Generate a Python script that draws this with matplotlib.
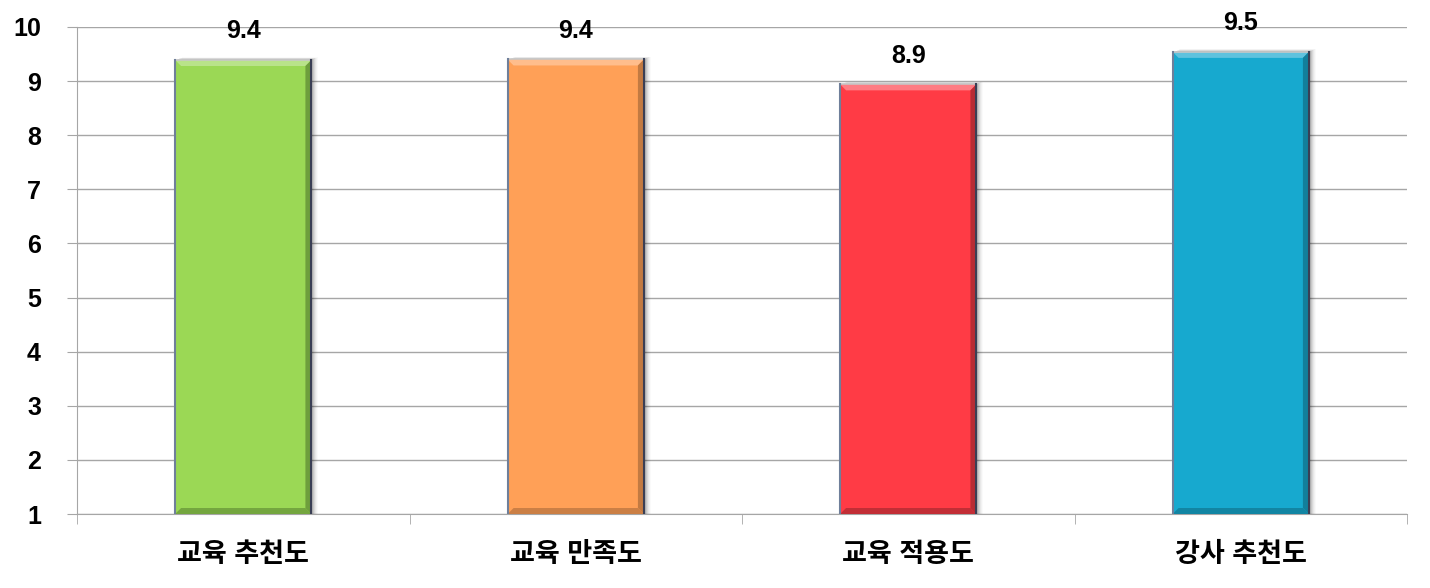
import matplotlib
matplotlib.use("Agg")
import matplotlib.pyplot as plt
from matplotlib.patches import Polygon, Rectangle
import numpy as np

plt.rcParams['font.family'] = ['Liberation Sans', 'Noto Sans CJK KR', 'DejaVu Sans']

CATEGORIES = ["교육 추천도", "교육 만족도", "교육 적용도", "강사 추천도"]
SCORES     = [9.39, 9.40, 8.94, 9.54]
COLORS     = ["#9BD855", "#FFA057", "#FF3B45", "#17A9CF"]
DARKS      = ["#6E9E3C", "#C27A42", "#B82C34", "#127F9C"]
LIGHTS     = ["#B9E38A", "#FFBD8C", "#FF7C83", "#5FC2DE"]
Y_MIN, Y_MAX = 1, 10

W, H, DPI = 14.3, 5.88, 100
fig = plt.figure(figsize=(W, H), dpi=DPI)
ax = fig.add_axes([77/1430, 1 - 514/588, (1407-77)/1430, (514-27)/588])

x = np.arange(len(CATEGORIES))
BAR_W = 0.41
bars = ax.bar(x, np.array(SCORES) - Y_MIN, bottom=Y_MIN, width=BAR_W,
              color=COLORS, zorder=3, linewidth=0)

ax.set_xlim(-0.5, len(CATEGORIES) - 0.5)
ax.set_ylim(Y_MIN, Y_MAX)

# pixel -> data unit helpers
px_x = (len(CATEGORIES)) / (1407 - 77)
px_y = (Y_MAX - Y_MIN) / (514 - 27)

for b, c, d, l in zip(bars, COLORS, DARKS, LIGHTS):
    x0, w = b.get_x(), b.get_width()
    y0, y1 = b.get_y(), b.get_y() + b.get_height()
    x1 = x0 + w
    bx, by = 6 * px_x, 6 * px_y
    # drop shadow
    for k, a in zip(range(1, 8), [0.12, 0.10, 0.08, 0.06, 0.04, 0.03, 0.02]):
        ax.add_patch(Rectangle((x0 + k * px_x, y0), w, (y1 - y0) + k * px_y * 0.4,
                               color="black", alpha=a, zorder=2, lw=0))
    # bevels
    ax.add_patch(Polygon([(x0, y1), (x1, y1), (x1 - bx, y1 - by), (x0 + bx, y1 - by)],
                         closed=True, color=l, zorder=4, lw=0))
    ax.add_patch(Polygon([(x1, y1), (x1, y0), (x1 - bx, y0 + by), (x1 - bx, y1 - by)],
                         closed=True, color=d, zorder=4, lw=0))
    ax.add_patch(Polygon([(x0, y0), (x1, y0), (x1 - bx, y0 + by), (x0 + bx, y0 + by)],
                         closed=True, color=d, zorder=4, lw=0, alpha=0.85))
    ax.plot([x0, x1], [y1, y1], color="#C8C8C8", lw=1.2, zorder=5)
    ax.plot([x0, x0], [y0, y1], color="#6F7F9A", lw=1.5, zorder=5)
    ax.plot([x1, x1], [y0, y1], color="#3A3F55", lw=1.5, zorder=5)
    ax.annotate(f"{b.get_y() + b.get_height():.1f}", (b.get_x() + w / 2, y1),
                xytext=(0, 12), textcoords="offset points", ha="center", va="bottom",
                fontsize=18, fontweight="bold", zorder=6)

ax.yaxis.grid(True, color="#A6A6A6", lw=1, zorder=0)
ax.set_yticks(range(Y_MIN, Y_MAX + 1))
ax.tick_params(axis="y", labelsize=18, length=7, color="#A6A6A6", pad=19)
for t in ax.get_yticklabels():
    t.set_fontweight("bold")

ax.set_xticks(x)
ax.set_xticklabels(CATEGORIES, fontsize=19.5, fontweight="bold")
ax.tick_params(axis="x", length=0, pad=20)
ax.set_xticks(np.arange(-0.5, len(CATEGORIES)), minor=True)
ax.tick_params(axis="x", which="minor", length=7, color="#A6A6A6")

for s in ["top", "right"]:
    ax.spines[s].set_visible(False)
for s in ["left", "bottom"]:
    ax.spines[s].set_color("#A6A6A6")

fig.savefig("out.png", dpi=DPI)
